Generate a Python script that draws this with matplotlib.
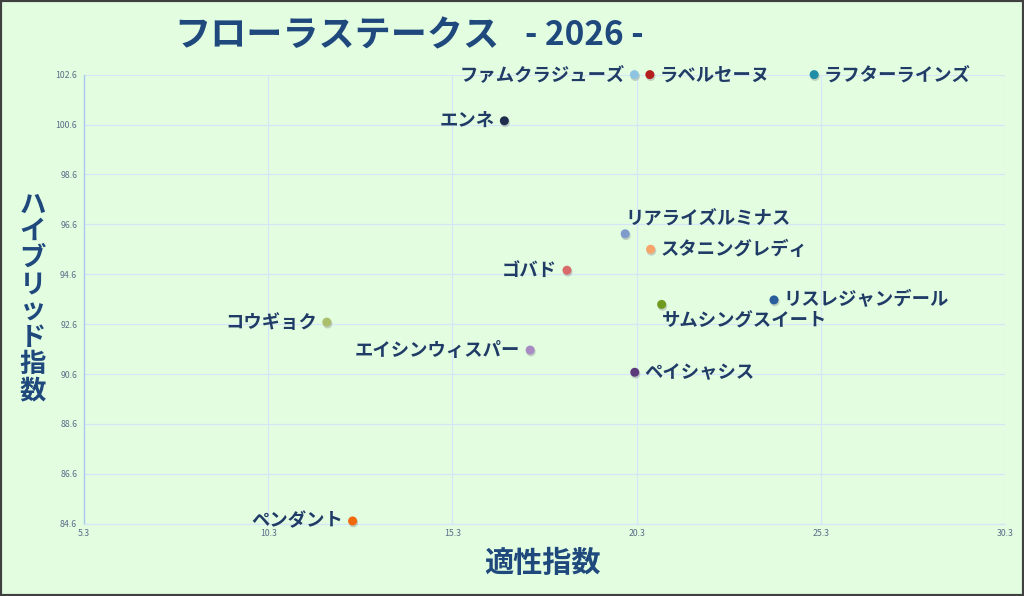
import matplotlib
matplotlib.use("Agg")
import matplotlib.pyplot as plt
from matplotlib.patches import Rectangle

plt.rcParams['font.family'] = ['Noto Sans CJK JP', 'DejaVu Sans']

names = ["ファムクラジューズ", "ラベルセーヌ", "ラフターラインズ", "エンネ",
         "リアライズルミナス", "スタニングレディ", "ゴバド", "サムシングスイート",
         "リスレジャンデール", "コウギョク", "エイシンウィスパー", "ペイシャシス",
         "ペンダント"]
x_vals = [20.24, 20.66, 25.12, 16.71, 19.99, 20.68, 18.41, 20.98, 24.03, 11.89,
          17.41, 20.25, 12.59]
y_vals = [102.6, 102.6, 102.6, 100.75, 96.22, 95.6, 94.76, 93.39, 93.57, 92.68,
          91.56, 90.67, 84.71]
colors = ["#8EC4E2", "#B41E1E", "#1F8EA6", "#1F2D4E", "#7E9BCB", "#F7A46B",
          "#D96A6A", "#6E9A1E", "#2B5E9C", "#A9BF6B", "#A98BC4", "#5B3A7B",
          "#F0690A"]
# label placement: side relative to point
places = ["left", "right", "right", "left", "above", "right", "left", "below",
          "right", "left", "left", "right", "left"]

x_ticks = [5.3, 10.3, 15.3, 20.3, 25.3, 30.3]
y_ticks = [84.6, 86.6, 88.6, 90.6, 92.6, 94.6, 96.6, 98.6, 100.6, 102.6]

bg = "#E3FDE1"
txt = "#1F3B66"

fig = plt.figure(figsize=(10.24, 5.96), dpi=100, facecolor=bg)
ax = fig.add_axes([0.0821, 0.1213, 0.8993, 0.7535], facecolor=bg)

ax.set_xlim(x_ticks[0], x_ticks[-1])
ax.set_ylim(y_ticks[0], y_ticks[-1])
ax.set_xticks(x_ticks)
ax.set_yticks(y_ticks)
ax.set_xticklabels([f"{v:.1f}" for v in x_ticks])
ax.set_yticklabels([f"{v:.1f}" for v in y_ticks])
ax.tick_params(length=0, labelsize=6.3, labelcolor="#5A6E88")
ax.tick_params(axis="y", pad=5)
ax.tick_params(axis="x", pad=4)
ax.grid(True, color="#D6E6F6", linewidth=0.9)
ax.set_axisbelow(True)
for s in ["top", "right"]:
    ax.spines[s].set_visible(False)
ax.spines["left"].set_color("#A9C8EE")
ax.spines["bottom"].set_color("#D6E6F6")
ax.spines["left"].set_linewidth(1.0)
ax.spines["bottom"].set_linewidth(0.9)

# shadows
ax.scatter(x_vals, y_vals, s=46, c="#808080", alpha=0.35, edgecolors="none",
           transform=ax.transData + matplotlib.transforms.ScaledTranslation(0.6/72, -1.2/72, fig.dpi_scale_trans),
           zorder=3, clip_on=False)
ax.scatter(x_vals, y_vals, s=42, c=colors, edgecolors="none", zorder=4, clip_on=False)

fs = 13.2
for n, x, y, p in zip(names, x_vals, y_vals, places):
    if p == "left":
        ax.annotate(n, (x, y), xytext=(-7, 0), textcoords="offset points",
                    ha="right", va="center", fontsize=fs, color=txt, fontweight="bold")
    elif p == "right":
        ax.annotate(n, (x, y), xytext=(7, 0), textcoords="offset points",
                    ha="left", va="center", fontsize=fs, color=txt, fontweight="bold")
    elif p == "above":
        ax.annotate(n, (x, y), xytext=(0, 11), textcoords="offset points",
                    ha="left", va="center", fontsize=fs, color=txt, fontweight="bold")
    else:
        ax.annotate(n, (x, y), xytext=(0, -12), textcoords="offset points",
                    ha="left", va="center", fontsize=fs, color=txt, fontweight="bold")

fig.text(0.170, 0.940, "フローラステークス", fontsize=26, fontweight="bold",
         color="#1F497D", ha="left", va="center")
fig.text(0.513, 0.940, "- 2026 -", fontsize=24, fontweight="bold",
         color="#1F497D", ha="left", va="center")

fig.text(0.530, 0.055, "適性指数", fontsize=21, fontweight="bold",
         color="#1F497D", ha="center", va="center")
fig.text(0.032, 0.50, "\n".join("ハイブリッド指数"), fontsize=19, fontweight="bold",
         color="#1F497D", ha="center", va="center", linespacing=0.98)

fig.patches.append(Rectangle((0, 0), 1, 1, transform=fig.transFigure, fill=False,
                             edgecolor="#404040", linewidth=3, zorder=10))

fig.savefig("out.png", dpi=100, facecolor=bg)
